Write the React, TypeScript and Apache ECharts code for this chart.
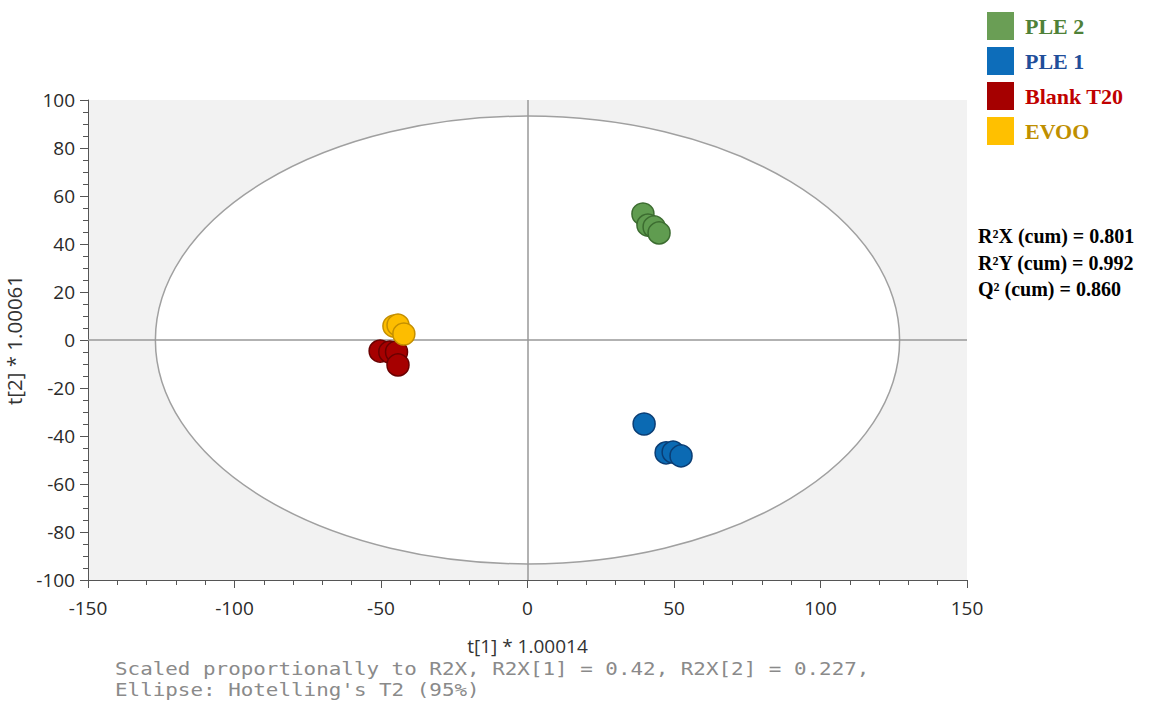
import React, { useEffect, useRef } from "react";
import * as echarts from "echarts";

const seriesNames = ["PLE 2", "PLE 1", "Blank T20", "EVOO"];
const ple2Points = [[39.4, 52.5], [41.1, 47.9], [43.2, 47.1], [44.9, 44.6]];
const ple1Points = [[39.8, -35.0], [47.3, -47.0], [49.7, -46.7], [52.4, -48.3]];
const blankPoints = [[-50.3, -4.6], [-47.0, -5.0], [-44.7, -5.0], [-44.2, -10.4]];
const evooPoints = [[-45.6, 5.8], [-44.2, 6.2], [-42.2, 2.5]];
const ellipseRadii = [127, 93.3];
const xTicks = [-150, 150, 50];
const yTicks = [-100, 100, 20];
const statsLines = ["R²X (cum) = 0.801", "R²Y (cum) = 0.992", "Q² (cum) = 0.860"];
const noteLines = [
  "Scaled proportionally to R2X, R2X[1] = 0.42, R2X[2] = 0.227,",
  "Ellipse: Hotelling's T2 (95%)",
];

const fills = ["#609c50", "#0b6ab3", "#a60000", "#fdbd00"];
const borders = ["#3c6c30", "#0a3d74", "#6a0000", "#c48f00"];
const legendText = ["#4f8138", "#1f4e9a", "#c00000", "#bf8f00"];
const legendFill = ["#6a9e55", "#0d6dba", "#a50000", "#ffc000"];

export default function App() {
  const ref = useRef<HTMLDivElement>(null);
  useEffect(() => {
    if (!ref.current) return;
    const chart = echarts.init(ref.current, undefined, { renderer: "svg" });
    const allData = [ple2Points, ple1Points, blankPoints, evooPoints];
    const scatter = allData.map((d, i) => ({
      name: seriesNames[i],
      type: "scatter",
      data: d,
      symbol: "circle",
      symbolSize: 22,
      z: 5,
      itemStyle: { color: fills[i], borderColor: borders[i], borderWidth: 1.5, opacity: 1 },
    }));
    const option: any = {
      animation: false,
      backgroundColor: "#ffffff",
      grid: {
        left: 88,
        right: 184,
        top: 100,
        bottom: 122,
        show: true,
        containLabel: false,
        outerBoundsMode: "none",
        backgroundColor: "#f2f2f2",
        borderWidth: 0,
      },
      legend: {
        orient: "vertical",
        left: 987,
        top: 12,
        padding: 0,
        icon: "rect",
        itemWidth: 27,
        itemHeight: 28,
        itemGap: 7,
        selectedMode: false,
        textStyle: {
          fontFamily: "Liberation Serif",
          fontWeight: "bold",
          fontSize: 22,
          padding: [0, 0, 0, 6],
        },
        data: seriesNames.map((n, i) => ({
          name: n,
          textStyle: { color: legendText[i] },
          itemStyle: { color: legendFill[i], borderWidth: 0 },
        })),
      },
      xAxis: {
        type: "value",
        min: xTicks[0],
        max: xTicks[1],
        interval: xTicks[2],
        name: "t[1] * 1.00014",
        nameLocation: "middle",
        nameGap: 56,
        nameTextStyle: { fontFamily: "Open Sans", fontSize: 19, color: "#333", lineHeight: 20 },
        axisLine: { onZero: false, lineStyle: { color: "#555", width: 1 } },
        axisTick: { show: true, length: 8, lineStyle: { color: "#555" } },
        minorTick: { show: true, splitNumber: 5, length: 5, lineStyle: { color: "#555" } },
        splitLine: { show: false },
        axisLabel: { fontFamily: "Open Sans", fontSize: 19, color: "#2a2a2a", margin: 18 },
      },
      yAxis: {
        type: "value",
        min: yTicks[0],
        max: yTicks[1],
        interval: yTicks[2],
        name: "t[2] * 1.00061",
        nameLocation: "middle",
        nameGap: 64,
        nameRotate: 90,
        nameTextStyle: { fontFamily: "Open Sans", fontSize: 20.5, color: "#333" },
        axisLine: { show: true, onZero: false, lineStyle: { color: "#555", width: 1 } },
        axisTick: { show: true, length: 8, lineStyle: { color: "#555" } },
        minorTick: { show: true, splitNumber: 4, length: 5, lineStyle: { color: "#555" } },
        splitLine: { show: false },
        axisLabel: { fontFamily: "Open Sans", fontSize: 19, color: "#2a2a2a", margin: 13 },
      },
      series: [
        {
          type: "custom",
          name: "ellipse",
          silent: true,
          z: 1,
          data: [[0, 0, ellipseRadii[0], ellipseRadii[1]]],
          renderItem: (params: any, api: any) => {
            const c = api.coord([api.value(0), api.value(1)]);
            const s = api.size([api.value(2), api.value(3)]);
            const rx = s[0];
            const ry = s[1];
            const d = `M ${c[0] - rx} ${c[1]} A ${rx} ${ry} 0 1 0 ${c[0] + rx} ${c[1]} A ${rx} ${ry} 0 1 0 ${c[0] - rx} ${c[1]} Z`;
            return {
              type: "path",
              shape: { pathData: d },
              style: { fill: "#ffffff", stroke: "#a0a0a0", lineWidth: 1.5 },
            };
          },
        },
        {
          type: "scatter",
          name: "zero",
          data: [],
          z: 3,
          markLine: {
            silent: true,
            symbol: "none",
            label: { show: false },
            lineStyle: { color: "#999", width: 1.5, type: "solid" },
            data: [{ xAxis: 0 }, { yAxis: 0 }],
          },
        },
        ...scatter,
      ],
      graphic: [
        ...statsLines.map((t, i) => ({
          type: "text",
          left: 978,
          top: 226 + i * 26.5,
          style: {
            text: t,
            fill: "#000",
            font: "bold 20px 'Liberation Serif'",
          },
        })),
        ...noteLines.map((t, i) => ({
          type: "text",
          x: 115,
          y: 659 + i * 21,
          scaleX: 1.13,
          style: {
            text: t,
            fill: "#8a8a8a",
            font: "18.5px 'DejaVu Sans Mono'",
            lineHeight: 19,
          },
        })),
      ],
    };
    chart.setOption(option);
    return () => chart.dispose();
  }, []);
  return <div ref={ref} style={{ width: 1151, height: 702, position: "absolute", left: 0, top: 0 }} />;
}
